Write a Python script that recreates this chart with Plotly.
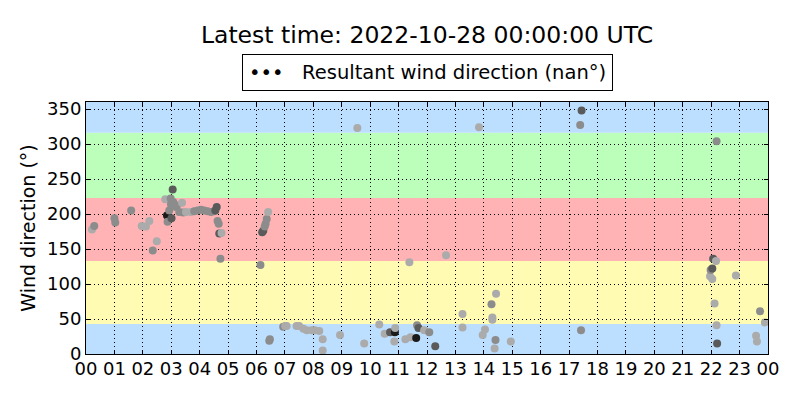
import datetime as dt
import plotly.graph_objects as go

# wind direction samples (hours since midnight, degrees)
hours = [0.21, 0.29, 1.00, 1.03, 1.59, 1.96, 2.11, 2.23, 2.35, 2.49,
         2.79, 2.85, 2.87, 2.93, 2.98, 2.99, 3.01, 3.05, 3.07, 3.17,
         3.20, 3.28, 3.38, 3.42, 3.52, 3.69, 3.81, 3.93, 4.05, 4.16,
         4.28, 4.40, 4.51, 4.55, 4.60, 4.63, 4.67, 4.69, 4.77, 4.73,
         6.14, 6.20, 6.24, 6.29, 6.32, 6.36, 6.41, 6.45, 6.47, 6.94,
         7.01, 7.06, 7.41, 7.50, 7.65, 7.77, 7.94, 8.05, 8.21, 8.33,
         8.33, 8.94, 9.55, 9.79, 10.32, 10.51, 10.70, 10.87, 10.88, 10.85,
         11.24, 11.38, 11.42, 11.62, 11.65, 11.70, 11.90, 12.08, 12.29, 12.67,
         13.25, 13.25, 13.83, 13.96, 14.04, 14.27, 14.30, 14.30, 14.38, 14.41,
         14.43, 14.95, 17.39, 17.42, 17.44, 21.96, 21.98, 22.04, 22.04, 22.07,
         22.17, 22.12, 22.19, 22.21, 22.19, 22.87, 23.58, 23.61, 23.72, 23.89]
direction = [178, 183, 194, 188, 205, 183, 182, 190, 148, 161,
             221, 198, 189, 205, 222, 214, 194, 235, 217, 210,
             212, 203, 216, 202, 203, 203, 204, 205, 206, 205,
             204, 203, 204, 205, 210, 190, 186, 172, 173, 136,
             127, 174, 176, 182, 186, 193, 203, 19, 21, 39,
             40, 40, 40, 40, 36, 34, 34, 34, 33, 21,
             5, 27, 323, 15, 42, 29, 31, 31, 37, 18,
             21, 131, 24, 23, 41, 37, 34, 31, 11, 141,
             57, 38, 324, 27, 35, 71, 52, 49, 8, 20,
             86, 18, 327, 34, 348, 111, 120, 122, 107, 136,
             133, 72, 41, 15, 304, 112, 26, 18, 61, 45]
shade = list("lmmmmlllml"
             "lkmmmmddmm"
             "mmlmllmmmm"
             "mmmddmmdlm"
             "mddmmmlmmm"
             "llllllllll"
             "lllllldkll"
             "lllkmdlmdl"
             "lllllmlllm"
             "llmmdlmdld"
             "llldmlllml")

grey = {"l": "#ababab", "m": "#8c8c8c", "d": "#5a5a5a", "k": "#1a1a1a"}

# compass sectors behind the points
band_edges = [0, 43, 133, 223, 316, 360]
band_colors = ["#bcdeff", "#fffbb3", "#ffb3b5", "#bbffbb", "#bcdeff"]

start = dt.datetime(2022, 10, 27)
times = [start + dt.timedelta(hours=h) for h in hours]

fig = go.Figure()

for lo, hi, col in zip(band_edges[:-1], band_edges[1:], band_colors):
    fig.add_shape(type="rect", xref="x domain", yref="y",
                  x0=0, x1=1, y0=lo, y1=hi,
                  fillcolor=col, line=dict(width=0), layer="below")

fig.add_trace(go.Scatter(x=times, y=direction, mode="markers",
                         marker=dict(size=8, color=[grey[s] for s in shade],
                                     line=dict(width=0)),
                         showlegend=False))

# page body has an 8px margin, so the figure is a bit smaller than the window
fig.update_layout(
    width=792, height=392,
    margin=dict(l=78, r=32, t=94, b=46),
    paper_bgcolor="white", plot_bgcolor="white",
    font=dict(family="DejaVu Sans", size=18, color="black"),
    title=dict(text="Latest time: 2022-10-28 00:00:00 UTC",
               x=0.5, xref="paper", xanchor="center",
               y=1 - 27 / 392, yref="container", yanchor="middle",
               font=dict(size=23.5)),
    showlegend=False,
)

fig.add_annotation(xref="paper", yref="paper", x=0.5, y=1 + 29.5 / 252,
                   xanchor="center", yanchor="middle", showarrow=False,
                   text="•••\u00a0\u00a0\u00a0Resultant wind direction (nan°)",
                   font=dict(size=19.5), bordercolor="black", borderwidth=1,
                   borderpad=6, bgcolor="white")

axis_common = dict(showline=True, linecolor="black", linewidth=1, mirror="ticks",
                   ticks="inside", ticklen=4, tickcolor="black",
                   showgrid=True, gridcolor="black", gridwidth=1, griddash="1px,3px",
                   zeroline=False, automargin=False)

fig.update_xaxes(type="date", range=[start, start + dt.timedelta(days=1)],
                 dtick=3600000, tickformat="%H", tick0=start,
                 ticklabelstandoff=-2, **axis_common)
fig.update_yaxes(range=[0, 360], tickvals=[0, 50, 100, 150, 200, 250, 300, 350],
                 title=dict(text="Wind direction (°)", standoff=6, font=dict(size=19)),
                 **axis_common)

fig.write_html("out.html")
